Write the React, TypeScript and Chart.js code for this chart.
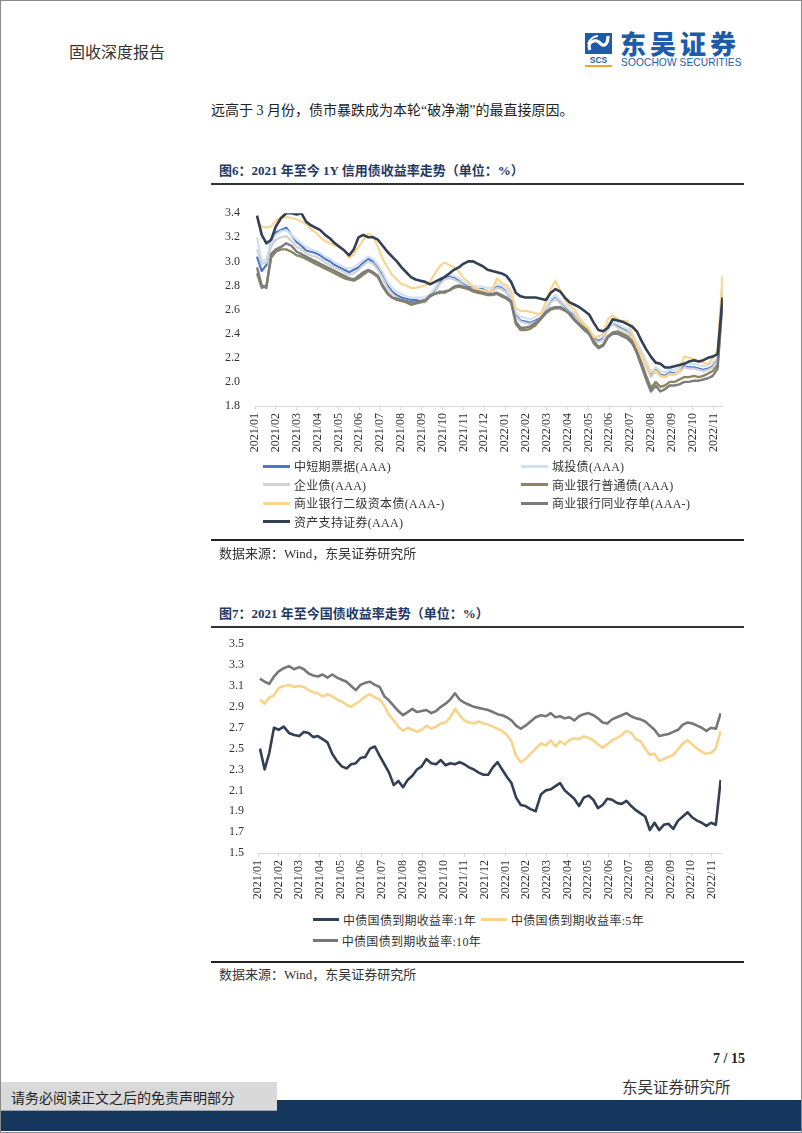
import React, { useEffect, useRef } from "react";
import { Chart, registerables } from "chart.js";

Chart.register(...registerables);

// ---------- data ----------
const FIRST_WEEK = "2021-01-04"; // weekly observations, 98 weeks
const WEEK_COUNT = 98;

const monthLabels = [
  "2021/01", "2021/02", "2021/03", "2021/04", "2021/05", "2021/06", "2021/07", "2021/08",
  "2021/09", "2021/10", "2021/11", "2021/12", "2022/01", "2022/02", "2022/03", "2022/04",
  "2022/05", "2022/06", "2022/07", "2022/08", "2022/09", "2022/10", "2022/11",
];

const creditTicks = [1.8, 2.0, 2.2, 2.4, 2.6, 2.8, 3.0, 3.2, 3.4];
const govTicks = [1.5, 1.7, 1.9, 2.1, 2.3, 2.5, 2.7, 2.9, 3.1, 3.3, 3.5];

const creditNames = [
  "中短期票据(AAA)", "城投债(AAA)", "企业债(AAA)", "商业银行普通债(AAA)",
  "商业银行二级资本债(AAA-)", "商业银行同业存单(AAA-)", "资产支持证券(AAA)",
];
const creditColors = ["#4A78C8", "#D3E0F1", "#D2D2D2", "#8B8660", "#F9D58E", "#7C7C7C", "#333F52"];

const mtnAAA = [
  3.04, 2.92, 2.97, 3.17, 3.24, 3.26, 3.28, 3.22, 3.16, 3.13,
  3.09, 3.08, 3.07, 3.05, 3.02, 3.00, 2.97, 2.95, 2.93, 2.91,
  2.93, 2.95, 2.99, 3.02, 3.00, 2.95, 2.89, 2.80, 2.75, 2.72,
  2.70, 2.69, 2.68, 2.68, 2.67, 2.67, 2.71, 2.75, 2.83, 2.87,
  2.88, 2.87, 2.84, 2.81, 2.79, 2.78, 2.77, 2.77, 2.75, 2.76,
  2.79, 2.78, 2.75, 2.68, 2.55, 2.51, 2.50, 2.49, 2.51, 2.53,
  2.60, 2.67, 2.70, 2.66, 2.62, 2.58, 2.55, 2.50, 2.44, 2.40,
  2.36, 2.34, 2.36, 2.45, 2.49, 2.46, 2.44, 2.42, 2.38, 2.31,
  2.24, 2.14, 2.05, 2.10, 2.06, 2.05, 2.08, 2.07, 2.09, 2.13,
  2.12, 2.12, 2.11, 2.10, 2.11, 2.13, 2.19, 2.76,
];
const chengtouAAA = [
  3.20, 3.00, 3.02, 3.15, 3.22, 3.25, 3.26, 3.22, 3.18, 3.15,
  3.12, 3.10, 3.09, 3.07, 3.04, 3.02, 2.99, 2.97, 2.95, 2.94,
  2.95, 2.98, 3.01, 3.04, 3.02, 2.97, 2.91, 2.83, 2.78, 2.75,
  2.73, 2.71, 2.70, 2.70, 2.70, 2.70, 2.73, 2.78, 2.85, 2.88,
  2.89, 2.88, 2.86, 2.83, 2.81, 2.80, 2.79, 2.79, 2.78, 2.78,
  2.81, 2.80, 2.77, 2.71, 2.58, 2.54, 2.53, 2.52, 2.54, 2.56,
  2.62, 2.69, 2.72, 2.68, 2.64, 2.60, 2.57, 2.52, 2.46, 2.42,
  2.38, 2.37, 2.39, 2.47, 2.50, 2.48, 2.46, 2.44, 2.40, 2.33,
  2.26, 2.17, 2.08, 2.12, 2.09, 2.08, 2.10, 2.10, 2.12, 2.16,
  2.15, 2.15, 2.14, 2.13, 2.14, 2.16, 2.21, 2.78,
];
const corpAAA = [
  3.10, 2.98, 2.99, 3.12, 3.18, 3.20, 3.21, 3.17, 3.12, 3.10,
  3.07, 3.05, 3.04, 3.02, 2.99, 2.97, 2.95, 2.93, 2.91, 2.89,
  2.90, 2.93, 2.97, 3.00, 2.98, 2.93, 2.86, 2.78, 2.73, 2.70,
  2.68, 2.67, 2.66, 2.66, 2.66, 2.66, 2.70, 2.74, 2.81, 2.85,
  2.86, 2.85, 2.83, 2.80, 2.78, 2.77, 2.76, 2.76, 2.74, 2.75,
  2.78, 2.77, 2.74, 2.67, 2.54, 2.50, 2.49, 2.48, 2.50, 2.52,
  2.59, 2.66, 2.69, 2.65, 2.61, 2.57, 2.54, 2.49, 2.43, 2.39,
  2.35, 2.33, 2.35, 2.44, 2.48, 2.45, 2.43, 2.41, 2.37, 2.30,
  2.23, 2.13, 2.04, 2.09, 2.05, 2.04, 2.07, 2.06, 2.08, 2.12,
  2.11, 2.11, 2.10, 2.09, 2.10, 2.12, 2.18, 2.74,
];
const bankSeniorAAA = [
  2.90, 2.78, 2.80, 3.03, 3.08, 3.10, 3.10, 3.08, 3.05, 3.04,
  3.02, 3.00, 2.98, 2.96, 2.94, 2.92, 2.90, 2.88, 2.86, 2.85,
  2.84, 2.86, 2.89, 2.92, 2.90, 2.87, 2.79, 2.73, 2.70, 2.68,
  2.67, 2.66, 2.64, 2.65, 2.66, 2.67, 2.72, 2.73, 2.75, 2.74,
  2.76, 2.78, 2.79, 2.78, 2.77, 2.75, 2.74, 2.73, 2.72, 2.72,
  2.73, 2.71, 2.69, 2.66, 2.48, 2.43, 2.43, 2.44, 2.47, 2.52,
  2.57, 2.60, 2.61, 2.61, 2.59, 2.57, 2.52, 2.48, 2.45, 2.42,
  2.34, 2.29, 2.31, 2.38, 2.41, 2.42, 2.40, 2.38, 2.34, 2.26,
  2.16, 2.05, 1.95, 2.00, 1.96, 1.97, 2.00, 2.00, 2.02, 2.04,
  2.04, 2.05, 2.04, 2.05, 2.07, 2.09, 2.14, 2.68,
];
const bankTier2AAAm = [
  3.33, 3.29, 3.28, 3.29, 3.34, 3.36, 3.37, 3.36, 3.35, 3.33,
  3.31, 3.27, 3.24, 3.20, 3.17, 3.15, 3.13, 3.12, 3.09, 3.03,
  3.06, 3.12, 3.18, 3.23, 3.21, 3.12, 3.02, 2.95, 2.89, 2.85,
  2.81, 2.80, 2.78, 2.78, 2.79, 2.80, 2.83, 2.90, 2.96, 2.99,
  2.97, 2.95, 2.92, 2.86, 2.83, 2.79, 2.77, 2.76, 2.75, 2.76,
  2.86, 2.82, 2.80, 2.75, 2.61, 2.59, 2.59, 2.58, 2.57, 2.56,
  2.67, 2.77, 2.84, 2.76, 2.68, 2.63, 2.60, 2.53, 2.48, 2.44,
  2.37, 2.38, 2.40, 2.52, 2.55, 2.52, 2.50, 2.51, 2.40, 2.30,
  2.22, 2.15, 2.08, 2.09, 2.05, 2.04, 2.06, 2.06, 2.10, 2.21,
  2.20, 2.19, 2.17, 2.16, 2.15, 2.20, 2.26, 2.88,
];
const ncdAAAm = [
  2.95, 2.80, 2.78, 3.06, 3.10, 3.12, 3.15, 3.13, 3.08, 3.06,
  3.04, 3.02, 3.00, 2.98, 2.96, 2.94, 2.92, 2.90, 2.88, 2.86,
  2.85, 2.88, 2.91, 2.93, 2.91, 2.88, 2.80, 2.74, 2.70, 2.69,
  2.68, 2.67, 2.66, 2.66, 2.67, 2.68, 2.71, 2.73, 2.74, 2.75,
  2.76, 2.79, 2.80, 2.79, 2.78, 2.76, 2.75, 2.74, 2.73, 2.73,
  2.74, 2.72, 2.70, 2.67, 2.50, 2.45, 2.45, 2.46, 2.49, 2.53,
  2.58, 2.61, 2.62, 2.62, 2.60, 2.56, 2.51, 2.47, 2.43, 2.40,
  2.32, 2.28, 2.30, 2.37, 2.40, 2.40, 2.38, 2.36, 2.32, 2.24,
  2.13, 2.02, 1.92, 1.97, 1.92, 1.94, 1.97, 1.97, 1.98, 2.00,
  2.00, 2.01, 2.01, 2.02, 2.03, 2.05, 2.11, 2.66,
];
const absAAA = [
  3.38, 3.22, 3.15, 3.18, 3.29, 3.36, 3.40, 3.40, 3.39, 3.40,
  3.33, 3.30, 3.28, 3.26, 3.22, 3.19, 3.15, 3.12, 3.09, 3.05,
  3.10, 3.20, 3.22, 3.20, 3.20, 3.18, 3.13, 3.08, 3.04, 3.00,
  2.95, 2.91, 2.87, 2.85, 2.84, 2.83, 2.81, 2.83, 2.85, 2.87,
  2.90, 2.93, 2.95, 2.98, 3.00, 3.00, 2.98, 2.96, 2.93, 2.92,
  2.91, 2.90, 2.88, 2.83, 2.74, 2.71, 2.70, 2.70, 2.70, 2.69,
  2.68, 2.74, 2.77, 2.75, 2.70, 2.66, 2.64, 2.62, 2.59, 2.56,
  2.49, 2.43, 2.42, 2.45, 2.52, 2.51, 2.50, 2.48, 2.46, 2.42,
  2.34, 2.27, 2.21, 2.16, 2.15, 2.12, 2.12, 2.13, 2.14, 2.15,
  2.17, 2.18, 2.17, 2.18, 2.20, 2.21, 2.23, 2.70,
];

const govNames = ["中债国债到期收益率:1年", "中债国债到期收益率:5年", "中债国债到期收益率:10年"];
const govColors = ["#333F52", "#FAD38A", "#777777"];

const gov1Y = [
  2.50, 2.30, 2.46, 2.70, 2.68, 2.71, 2.65, 2.63, 2.62, 2.66,
  2.65, 2.61, 2.62, 2.59, 2.56, 2.45, 2.38, 2.33, 2.31, 2.35,
  2.36, 2.41, 2.42, 2.50, 2.52, 2.43, 2.35, 2.27, 2.15, 2.19,
  2.13, 2.20, 2.24, 2.30, 2.33, 2.40, 2.36, 2.35, 2.39, 2.34,
  2.36, 2.35, 2.37, 2.35, 2.32, 2.30, 2.27, 2.25, 2.25, 2.32,
  2.37, 2.30, 2.23, 2.17, 2.03, 1.96, 1.95, 1.92, 1.90, 2.06,
  2.10, 2.11, 2.14, 2.17, 2.10, 2.06, 2.02, 1.95, 2.03, 2.05,
  2.01, 1.93, 1.96, 2.02, 2.01, 1.98, 1.97, 2.00, 1.95, 1.91,
  1.88, 1.85, 1.72, 1.79, 1.72, 1.77, 1.78, 1.73, 1.81, 1.85,
  1.89, 1.84, 1.81, 1.79, 1.76, 1.79, 1.77, 2.20,
];
const gov5Y = [
  2.97, 2.93, 2.99, 3.01, 3.08, 3.10, 3.11, 3.09, 3.10, 3.09,
  3.06, 3.04, 3.03, 3.00, 3.02, 3.00, 2.97, 2.95, 2.92, 2.90,
  2.93, 2.96, 3.00, 3.02, 2.99, 2.97, 2.91, 2.82, 2.77, 2.71,
  2.67, 2.70, 2.68, 2.66, 2.68, 2.72, 2.69, 2.71, 2.74, 2.75,
  2.80, 2.88, 2.82, 2.77, 2.75, 2.74, 2.76, 2.74, 2.73, 2.71,
  2.69, 2.67, 2.63, 2.57, 2.43, 2.37, 2.40, 2.45, 2.50, 2.55,
  2.53, 2.58, 2.52, 2.57, 2.54, 2.58, 2.60, 2.59, 2.62, 2.60,
  2.58, 2.54, 2.51, 2.54, 2.58, 2.60, 2.63, 2.67, 2.65, 2.59,
  2.57, 2.50, 2.44, 2.45, 2.38, 2.40, 2.42, 2.44, 2.49, 2.55,
  2.58, 2.54, 2.50, 2.47, 2.45, 2.46, 2.50, 2.67,
];
const gov10Y = [
  3.17, 3.14, 3.12, 3.19, 3.24, 3.27, 3.29, 3.26, 3.28, 3.26,
  3.22, 3.20, 3.19, 3.21, 3.18, 3.21, 3.18, 3.16, 3.14, 3.10,
  3.06, 3.11, 3.13, 3.14, 3.11, 3.09, 3.00, 2.96, 2.91, 2.86,
  2.82, 2.85, 2.88, 2.85, 2.86, 2.87, 2.84, 2.86, 2.90, 2.93,
  2.97, 3.03, 2.97, 2.94, 2.92, 2.90, 2.89, 2.88, 2.87, 2.85,
  2.83, 2.82, 2.80, 2.77, 2.72, 2.69, 2.72, 2.76, 2.80, 2.82,
  2.81, 2.84, 2.80, 2.81, 2.79, 2.80, 2.77, 2.81, 2.83, 2.84,
  2.82, 2.79, 2.75, 2.74, 2.78, 2.80, 2.82, 2.84, 2.81, 2.79,
  2.78, 2.76, 2.72, 2.68, 2.62, 2.63, 2.64, 2.66, 2.68, 2.73,
  2.75, 2.74, 2.72, 2.70, 2.67, 2.70, 2.69, 2.84,
];

// ---------- helpers ----------
// convert a date into a fractional month index (0 = start of 2021/01)
function monthPosition(d: Date): number {
  const y = d.getUTCFullYear();
  const m = d.getUTCMonth();
  const days = new Date(Date.UTC(y, m + 1, 0)).getUTCDate();
  return (y - 2021) * 12 + m + (d.getUTCDate() - 1) / days;
}
function weekPositions(): number[] {
  const start = new Date(FIRST_WEEK + "T00:00:00Z").getTime();
  const out: number[] = [];
  for (let i = 0; i < WEEK_COUNT; i++) out.push(monthPosition(new Date(start + i * 7 * 86400000)));
  return out;
}

const SERIF = "'Liberation Serif', 'Times New Roman', 'Noto Sans CJK SC', serif";
const CJK = "'Noto Sans CJK SC', 'Liberation Serif', serif";
const MIXED = "'Liberation Serif', 'Noto Sans CJK SC', serif";

type Spec = {
  series: number[][];
  colors: string[];
  widths: number[];
  yTicks: number[];
  yAxisWidth: number;
  yLabelPad: number;
  padRight: number;
  xAxisHeight: number;
  left: number;
  top: number;
  width: number;
  height: number;
  xMax: number;
};

function LineChart({ spec }: { spec: Spec }) {
  const ref = useRef<HTMLCanvasElement | null>(null);
  useEffect(() => {
    const xs = weekPositions();
    const n = spec.series.length;
    const chart = new Chart(ref.current as HTMLCanvasElement, {
      type: "line",
      data: {
        datasets: spec.series.map((vals, k) => ({
          data: vals.map((v, i) => ({ x: xs[i], y: v })),
          borderColor: spec.colors[k],
          backgroundColor: spec.colors[k],
          borderWidth: spec.widths[k],
          pointRadius: 0,
          tension: 0,
          fill: false,
          order: n - 1 - k,
          borderJoinStyle: "round" as const,
        })),
      },
      options: {
        animation: false,
        responsive: false,
        maintainAspectRatio: false,
        layout: { padding: { top: 0, right: spec.padRight, left: 0, bottom: 0 } },
        plugins: { legend: { display: false }, tooltip: { enabled: false } },
        scales: {
          x: {
            type: "linear",
            min: 0,
            max: spec.xMax,
            afterBuildTicks: (s: any) => {
              s.ticks = monthLabels.map((_, i) => ({ value: i }));
            },
            afterFit: (s: any) => {
              s.height = spec.xAxisHeight;
            },
            grid: { drawOnChartArea: false, drawTicks: true, tickLength: 4, color: "#D9D9D9" },
            border: { color: "#D9D9D9", width: 1 },
            ticks: {
              autoSkip: false,
              maxRotation: 90,
              minRotation: 90,
              padding: 3,
              color: "#333",
              font: { family: SERIF, size: 12 },
              callback: (v: any) => monthLabels[Math.round(Number(v))] ?? "",
            },
          },
          y: {
            type: "linear",
            min: spec.yTicks[0],
            max: spec.yTicks[spec.yTicks.length - 1],
            afterBuildTicks: (s: any) => {
              s.ticks = spec.yTicks.map((v) => ({ value: v }));
            },
            afterFit: (s: any) => {
              s.width = spec.yAxisWidth;
            },
            grid: { display: false, drawTicks: false },
            border: { display: false },
            ticks: {
              padding: spec.yLabelPad,
              color: "#333",
              font: { family: SERIF, size: 12 },
              callback: (v: any) => Number(v).toFixed(1),
            },
          },
        },
      },
    } as any);
    return () => chart.destroy();
  }, []);
  return (
    <canvas
      ref={ref}
      width={spec.width}
      height={spec.height}
      style={{ position: "absolute", left: spec.left, top: spec.top, width: spec.width, height: spec.height }}
    />
  );
}

function Legend({
  names, colors, left, top, itemWidths, rowHeight, width, lineW, lineH,
}: {
  names: string[]; colors: string[]; left: number; top: number; itemWidths: number[];
  rowHeight: number; width: number; lineW: number; lineH: number;
}) {
  return (
    <div style={{ position: "absolute", left, top, width, display: "flex", flexWrap: "wrap" }}>
      {names.map((nm, i) => (
        <div key={nm} style={{ width: itemWidths[i], height: rowHeight, display: "flex", alignItems: "center", whiteSpace: "nowrap" }}>
          <span style={{ display: "inline-block", width: lineW, height: lineH, background: colors[i], marginRight: 4 }} />
          <span style={{ fontFamily: MIXED, fontSize: 12, color: "#333", letterSpacing: 0.3 }}>{nm}</span>
        </div>
      ))}
    </div>
  );
}

const abs = (l: number, t: number, extra: React.CSSProperties = {}): React.CSSProperties => ({
  position: "absolute", left: l, top: t, ...extra,
});

export default function App() {
  const creditSpec: Spec = {
    series: [mtnAAA, chengtouAAA, corpAAA, bankSeniorAAA, bankTier2AAAm, ncdAAAm, absAAA],
    colors: creditColors,
    widths: [2.2, 2.2, 2.2, 2.4, 2.2, 2.4, 2.6],
    yTicks: creditTicks,
    yAxisWidth: 44,
    yLabelPad: 15,
    padRight: 8,
    xAxisHeight: 57,
    left: 210,
    top: 190,
    width: 520,
    height: 272,
    xMax: 22.45,
  };
  const govSpec: Spec = {
    series: [gov1Y, gov5Y, gov10Y],
    colors: govColors,
    widths: [2.6, 2.6, 2.6],
    yTicks: govTicks,
    yAxisWidth: 47,
    yLabelPad: 14,
    padRight: 10,
    xAxisHeight: 50,
    left: 210,
    top: 622,
    width: 520,
    height: 280,
    xMax: 22.45,
  };

  return (
    <div style={{ position: "absolute", left: 0, top: 0, width: 802, height: 1133, background: "#fff", overflow: "hidden", boxSizing: "border-box", border: "1px solid #8a8a8a" }}>
      {/* header */}
      <div style={abs(68, 40, { fontFamily: CJK, fontSize: 16, lineHeight: "20px", color: "#333", letterSpacing: 0 })}>固收深度报告</div>
      <svg style={abs(583, 31)} width={30} height={36} viewBox="0 0 30 36">
        <rect x="1" y="1" width="27" height="21" fill="#1F5CA8" />
        <path d="M6 18 C 2 10, 12 6, 16 11 S 24 12, 24 4" stroke="#fff" strokeWidth="3.2" fill="none" />
        <path d="M4 12 C 6 6, 11 4, 14 4" stroke="#fff" strokeWidth="2" fill="none" />
        <text x="14.5" y="31" textAnchor="middle" fontFamily="'Liberation Sans', Arial" fontWeight="bold" fontSize="8.5" fill="#1F5CA8">SCS</text>
        <rect x="1" y="33" width="27" height="2" fill="#F2A033" />
      </svg>
      <div style={abs(619, 28, { fontFamily: CJK, fontSize: 26, fontWeight: 900, lineHeight: "28px", color: "#1F5CA8", letterSpacing: 4 })}>东吴证券</div>
      <div style={abs(620, 56, { fontFamily: "'Liberation Sans', Arial, sans-serif", fontSize: 10.2, lineHeight: "11px", color: "#1F5CA8", letterSpacing: 0.1 })}>SOOCHOW SECURITIES</div>

      <div style={abs(210, 101, { fontFamily: MIXED, fontSize: 14, lineHeight: "18px", color: "#222" })}>
        远高于 3 月份，债市暴跌成为本轮“破净潮”的最直接原因。
      </div>

      {/* figure 6 */}
      <div style={abs(218, 161, { fontFamily: MIXED, fontSize: 13, fontWeight: "bold", lineHeight: "18px", color: "#1F3864" })}>
        图6：2021 年至今 1Y 信用债收益率走势（单位：%）
      </div>
      <div style={abs(210, 182, { width: 533, height: 2, background: "#333" })} />
      <LineChart spec={creditSpec} />
      <Legend
        names={creditNames}
        colors={creditColors}
        left={262}
        top={456}
        width={480}
        itemWidths={[258, 220, 258, 220, 258, 220, 258]}
        rowHeight={18.5}
        lineW={27}
        lineH={3}
      />
      <div style={abs(210, 538, { width: 533, height: 2, background: "#222" })} />
      <div style={abs(218, 544, { fontFamily: MIXED, fontSize: 13, lineHeight: "18px", color: "#333" })}>
        数据来源：Wind，东吴证券研究所
      </div>

      {/* figure 7 */}
      <div style={abs(218, 604, { fontFamily: MIXED, fontSize: 13, fontWeight: "bold", lineHeight: "18px", color: "#1F3864" })}>
        图7：2021 年至今国债收益率走势（单位：%）
      </div>
      <div style={abs(210, 625, { width: 533, height: 2, background: "#333" })} />
      <LineChart spec={govSpec} />
      <Legend
        names={govNames}
        colors={govColors}
        left={312}
        top={908}
        width={340}
        itemWidths={[168, 168, 168]}
        rowHeight={21}
        lineW={26}
        lineH={3}
      />
      <div style={abs(210, 960, { width: 533, height: 2, background: "#222" })} />
      <div style={abs(218, 965, { fontFamily: MIXED, fontSize: 13, lineHeight: "18px", color: "#333" })}>
        数据来源：Wind，东吴证券研究所
      </div>

      {/* footer */}
      <div style={abs(700, 1049, { width: 44, textAlign: "right", fontFamily: SERIF, fontWeight: "bold", fontSize: 14, lineHeight: "18px", color: "#222" })}>
        7 / 15
      </div>
      <div style={abs(621, 1075, { fontFamily: CJK, fontSize: 15.5, lineHeight: "20px", color: "#333" })}>东吴证券研究所</div>
      <div style={abs(0, 1099, { width: 802, height: 31, background: "#17365D" })} />
      <div style={abs(0, 1081, { width: 276, height: 29, background: "#D9D9D9", borderBottom: "1px solid #9aa5b5", boxSizing: "border-box" })} />
      <div style={abs(10, 1086, { fontFamily: CJK, fontSize: 14, lineHeight: "20px", color: "#222" })}>请务必阅读正文之后的免责声明部分</div>
    </div>
  );
}
